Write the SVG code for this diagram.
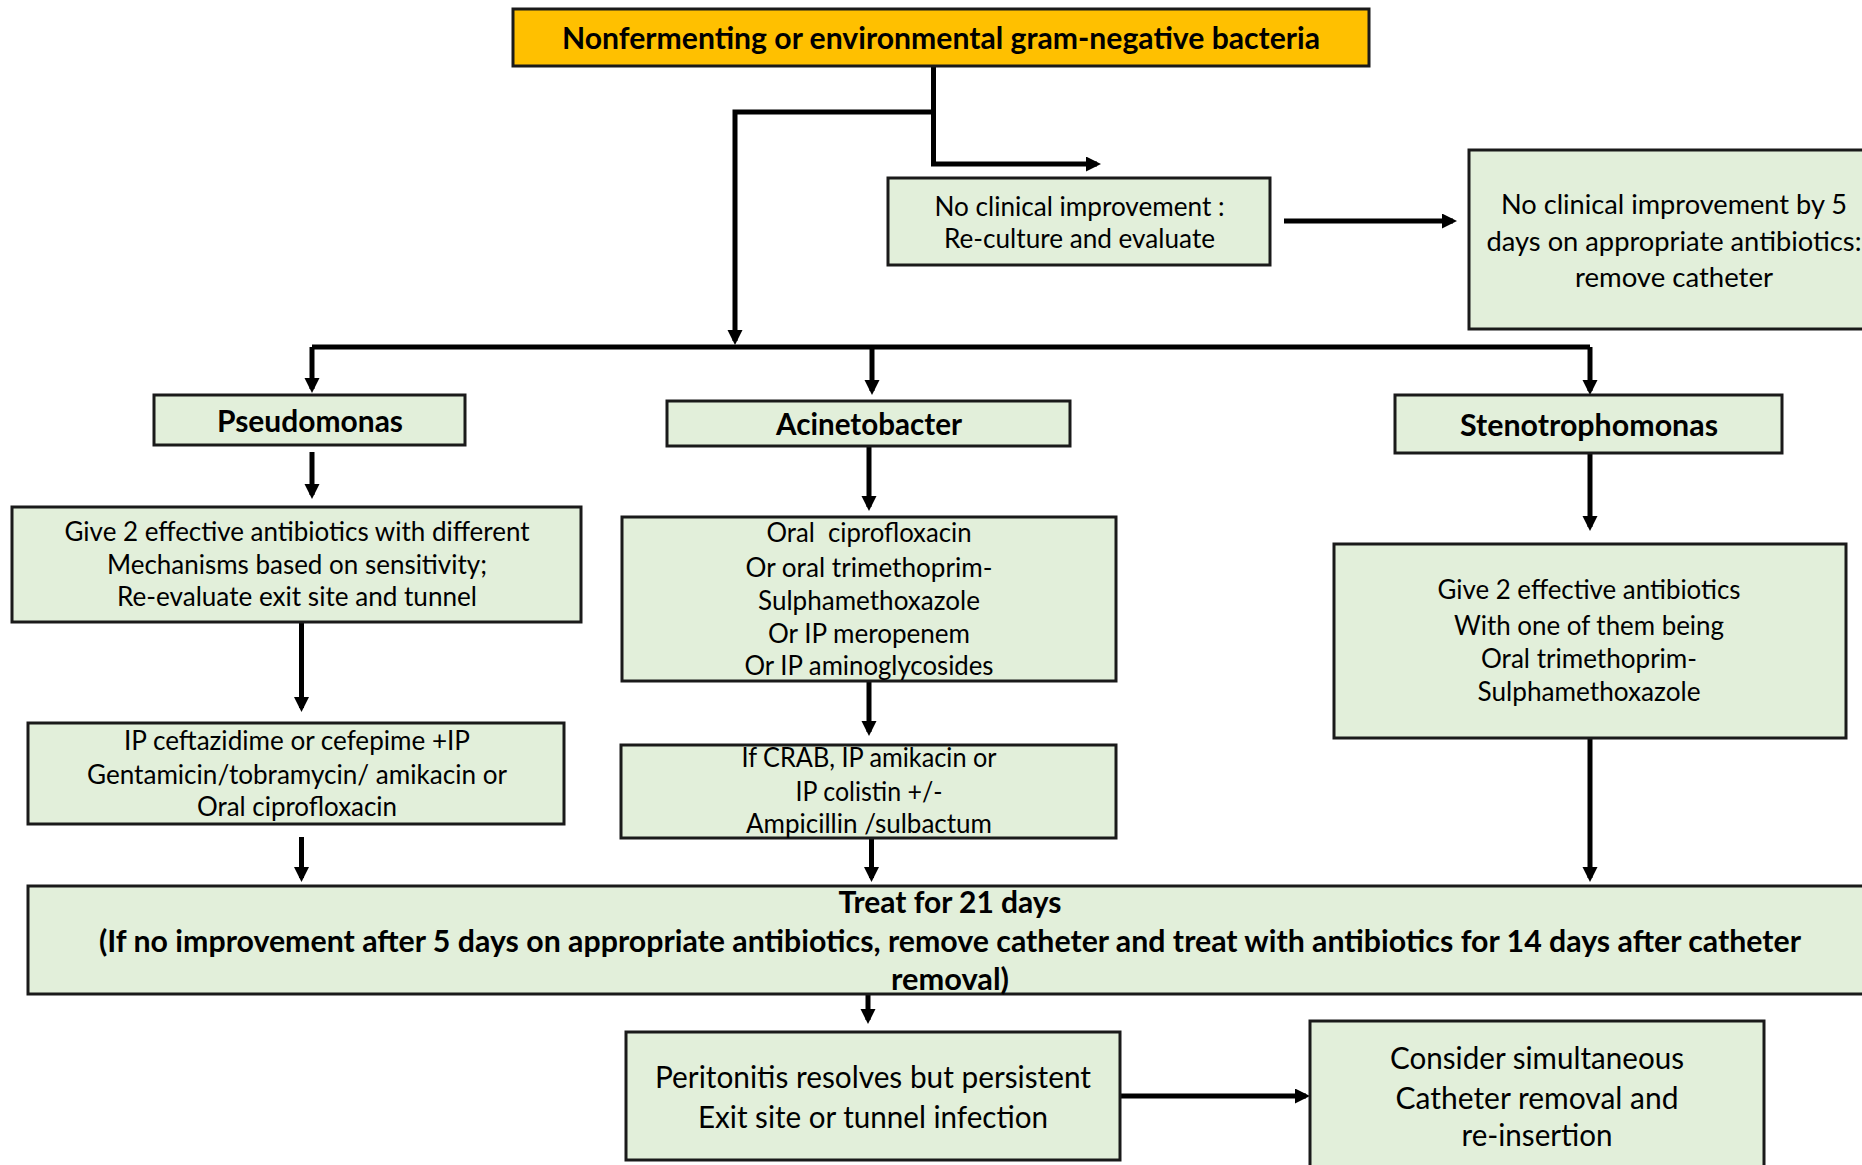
<svg xmlns="http://www.w3.org/2000/svg" width="1862" height="1165" viewBox="0 0 1862 1165">
  <style>
    .box { fill: #E2EFDA; stroke: #1a1a1a; stroke-width: 3; }
    .start { fill: #FFC000; stroke: #1a1a1a; stroke-width: 3; }
    .t { font-family: Lato, "Liberation Sans", sans-serif; font-size: 26px; text-anchor: middle; fill: #000; }
    .b { font-weight: bold; font-size: 30px; }
    .lg { font-size: 30px; }
    .link { fill: none; stroke: #000; stroke-width: 5; marker-end: url(#head); }
    .bus { fill: none; stroke: #000; stroke-width: 5; }
  </style>
  <defs>
    <marker id="head" markerUnits="userSpaceOnUse" markerWidth="16" markerHeight="16" refX="11" refY="7.5" orient="auto">
      <path d="M0,0 L15,7.5 L0,15 z" fill="#000"/>
    </marker>
  </defs>

  <rect width="1862" height="1165" fill="#fff"/>

  <!-- connectors -->
  <g id="connectors">
    <path class="link" d="M933.5,66 V164 H1097"/>
    <path class="link" d="M933.5,112 H735 V341"/>
    <path class="bus" d="M312,347 H1590"/>
    <path class="link" d="M312,347 V389"/>
    <path class="link" d="M872,347 V391"/>
    <path class="link" d="M1590,347 V391"/>
    <path class="link" d="M1284,221 H1453"/>
    <path class="link" d="M312,452 V495"/>
    <path class="link" d="M301.5,622 V708"/>
    <path class="link" d="M301.5,837 V878"/>
    <path class="link" d="M869,446 V507"/>
    <path class="link" d="M869,681 V732"/>
    <path class="link" d="M871.5,838 V878"/>
    <path class="link" d="M1590,453 V527"/>
    <path class="link" d="M1590,737 V878"/>
    <path class="link" d="M868,995 V1020"/>
    <path class="link" d="M1120,1096 H1306"/>
  </g>

  <g id="root">
    <rect class="start" x="513" y="9" width="856" height="57"/>
    <text class="t b" x="941" y="49" textLength="758" lengthAdjust="spacingAndGlyphs">Nonfermenting or environmental gram-negative bacteria</text>
  </g>

  <g id="reculture">
    <rect class="box" x="888" y="178" width="382" height="87"/>
    <text class="t" x="1079.5" y="216" textLength="290" lengthAdjust="spacingAndGlyphs">No clinical improvement :</text>
    <text class="t" x="1079.5" y="248" textLength="271" lengthAdjust="spacingAndGlyphs">Re-culture and evaluate</text>
  </g>

  <g id="remove-catheter">
    <rect class="box" x="1469" y="150" width="420" height="179"/>
    <text class="t" x="1674" y="214" textLength="346" lengthAdjust="spacingAndGlyphs">No clinical improvement by 5</text>
    <text class="t" x="1674" y="251" textLength="375" lengthAdjust="spacingAndGlyphs">days on appropriate antibiotics:</text>
    <text class="t" x="1674" y="287" textLength="198" lengthAdjust="spacingAndGlyphs">remove catheter</text>
  </g>

  <g id="pseudomonas">
    <rect class="box" x="154" y="395" width="311" height="50"/>
    <text class="t b" x="310" y="432" textLength="186" lengthAdjust="spacingAndGlyphs">Pseudomonas</text>
  </g>

  <g id="acinetobacter">
    <rect class="box" x="667" y="401" width="403" height="45"/>
    <text class="t b" x="869" y="435" textLength="186" lengthAdjust="spacingAndGlyphs">Acinetobacter</text>
  </g>

  <g id="stenotrophomonas">
    <rect class="box" x="1395" y="395" width="387" height="58"/>
    <text class="t b" x="1589" y="436" textLength="258" lengthAdjust="spacingAndGlyphs">Stenotrophomonas</text>
  </g>

  <g id="pseudo-two-agents">
    <rect class="box" x="12" y="507" width="569" height="115"/>
    <text class="t" x="297" y="541" textLength="465" lengthAdjust="spacingAndGlyphs">Give 2 effective antibiotics with different</text>
    <text class="t" x="297" y="574" textLength="380" lengthAdjust="spacingAndGlyphs">Mechanisms based on sensitivity;</text>
    <text class="t" x="297" y="606" textLength="360" lengthAdjust="spacingAndGlyphs">Re-evaluate exit site and tunnel</text>
  </g>

  <g id="pseudo-regimen">
    <rect class="box" x="28" y="723" width="536" height="101"/>
    <text class="t" x="297" y="750" textLength="346" lengthAdjust="spacingAndGlyphs">IP ceftazidime or cefepime +IP</text>
    <text class="t" x="297" y="784" textLength="420" lengthAdjust="spacingAndGlyphs">Gentamicin/tobramycin/ amikacin or</text>
    <text class="t" x="297" y="816" textLength="200" lengthAdjust="spacingAndGlyphs">Oral ciprofloxacin</text>
  </g>

  <g id="acin-regimen">
    <rect class="box" x="622" y="517" width="494" height="164"/>
    <text class="t" x="869" y="542" textLength="205" lengthAdjust="spacingAndGlyphs" xml:space="preserve">Oral  ciprofloxacin</text>
    <text class="t" x="869" y="577" textLength="247" lengthAdjust="spacingAndGlyphs">Or oral trimethoprim-</text>
    <text class="t" x="869" y="610" textLength="222" lengthAdjust="spacingAndGlyphs">Sulphamethoxazole</text>
    <text class="t" x="869" y="643" textLength="202" lengthAdjust="spacingAndGlyphs">Or IP meropenem</text>
    <text class="t" x="869" y="675" textLength="249" lengthAdjust="spacingAndGlyphs">Or IP aminoglycosides</text>
  </g>

  <g id="acin-crab">
    <rect class="box" x="621" y="745" width="495" height="93"/>
    <text class="t" x="869" y="767" textLength="255" lengthAdjust="spacingAndGlyphs">If CRAB, IP amikacin or</text>
    <text class="t" x="869" y="801" textLength="147" lengthAdjust="spacingAndGlyphs">IP colistin +/-</text>
    <text class="t" x="869" y="833" textLength="246" lengthAdjust="spacingAndGlyphs">Ampicillin /sulbactum</text>
  </g>

  <g id="steno-regimen">
    <rect class="box" x="1334" y="544" width="512" height="194"/>
    <text class="t" x="1589" y="599" textLength="303" lengthAdjust="spacingAndGlyphs">Give 2 effective antibiotics</text>
    <text class="t" x="1589" y="635" textLength="270" lengthAdjust="spacingAndGlyphs">With one of them being</text>
    <text class="t" x="1589" y="668" textLength="216" lengthAdjust="spacingAndGlyphs">Oral trimethoprim-</text>
    <text class="t" x="1589" y="701" textLength="223" lengthAdjust="spacingAndGlyphs">Sulphamethoxazole</text>
  </g>

  <g id="treat">
    <rect class="box" x="28" y="886" width="1850" height="108"/>
    <text class="t b" x="950" y="913" textLength="223" lengthAdjust="spacingAndGlyphs">Treat for 21 days</text>
    <text class="t b" x="950" y="952" textLength="1702" lengthAdjust="spacingAndGlyphs">(If no improvement after 5 days on appropriate antibiotics, remove catheter and treat with antibiotics for 14 days after catheter</text>
    <text class="t b" x="950" y="990" textLength="118" lengthAdjust="spacingAndGlyphs">removal)</text>
  </g>

  <g id="persistent-infection">
    <rect class="box" x="626" y="1032" width="494" height="128"/>
    <text class="t lg" x="873" y="1088" textLength="436" lengthAdjust="spacingAndGlyphs">Peritonitis resolves but persistent</text>
    <text class="t lg" x="873" y="1128" textLength="350" lengthAdjust="spacingAndGlyphs">Exit site or tunnel infection</text>
  </g>

  <g id="reinsertion">
    <rect class="box" x="1310" y="1021" width="454" height="160"/>
    <text class="t lg" x="1537" y="1069" textLength="294" lengthAdjust="spacingAndGlyphs">Consider simultaneous</text>
    <text class="t lg" x="1537" y="1109" textLength="283" lengthAdjust="spacingAndGlyphs">Catheter removal and</text>
    <text class="t lg" x="1537" y="1146" textLength="151" lengthAdjust="spacingAndGlyphs">re-insertion</text>
  </g>
</svg>
